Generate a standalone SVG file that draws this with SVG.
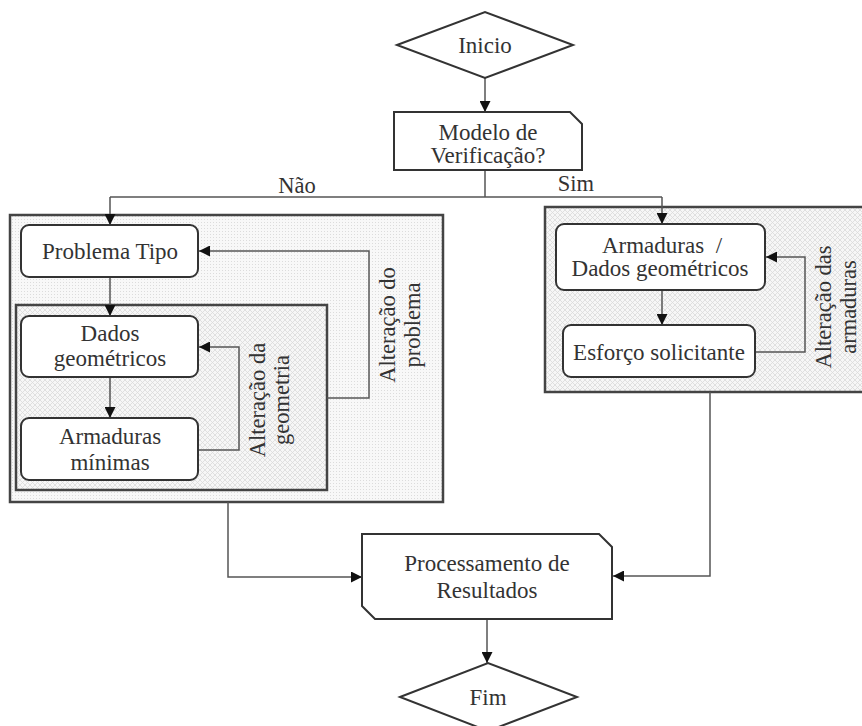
<svg xmlns="http://www.w3.org/2000/svg" width="862" height="726" viewBox="0 0 862 726">
<style>
.t{font-family:"Liberation Serif","Times New Roman",serif;font-size:23px;fill:#333;text-anchor:middle;dominant-baseline:central}
.l{font-size:22.5px}
.n{fill:#fff;stroke:#333;stroke-width:2}
.c{fill:none;stroke:#555;stroke-width:1.5}
.g{stroke:#444;stroke-width:2.5}
</style>
<defs>
<pattern id="dots" width="3" height="3" patternUnits="userSpaceOnUse">
<rect width="3" height="3" fill="#f8f8f8"/>
<rect width="1" height="1" fill="#dcdcdc"/>
</pattern>
<pattern id="hatch" width="5" height="5" patternUnits="userSpaceOnUse">
<rect width="5" height="5" fill="#f7f7f7"/>
<path d="M0,0 L5,5 M5,0 L0,5" stroke="#dadada" stroke-width="0.8"/>
</pattern>
<marker id="ar" viewBox="0 0 10 10" refX="10" refY="5" markerWidth="11" markerHeight="11" markerUnits="userSpaceOnUse" orient="auto">
<path d="M0,0 L10,5 L0,10 Z" fill="#111"/>
</marker>
</defs>
<g id="grupo-esquerdo">
<rect x="10" y="215" width="433" height="287" fill="url(#dots)" class="g"/>
</g>
<g id="grupo-geometria">
<rect x="16" y="305" width="311" height="185" fill="url(#hatch)" class="g"/>
</g>
<g id="grupo-direito">
<rect x="545" y="207" width="320" height="185" fill="url(#hatch)" class="g"/>
</g>
<g id="connectors">
<path class="c" d="M485,78 V112" marker-end="url(#ar)"/>
<path class="c" d="M485,170 V197"/>
<path class="c" d="M110,197 H662"/>
<path class="c" d="M110,197 V225" marker-end="url(#ar)"/>
<path class="c" d="M662,197 V224" marker-end="url(#ar)"/>
<path class="c" d="M110,277 V316" marker-end="url(#ar)"/>
<path class="c" d="M110,377 V418" marker-end="url(#ar)"/>
<path class="c" d="M198,450 H239 V347 H199" marker-end="url(#ar)"/>
<path class="c" d="M327,398 H369 V251 H199" marker-end="url(#ar)"/>
<path class="c" d="M662,290 V325" marker-end="url(#ar)"/>
<path class="c" d="M755,352 H805 V257 H766" marker-end="url(#ar)"/>
<path class="c" d="M710,392 V576 H613" marker-end="url(#ar)"/>
<path class="c" d="M228,502 V577 H362" marker-end="url(#ar)"/>
<path class="c" d="M487,619 V663" marker-end="url(#ar)"/>
<text class="t l" x="297" y="185">Não</text>
<text class="t l" x="576" y="183">Sim</text>
<text class="t l" transform="translate(257,400) rotate(-90)">Alteração da</text>
<text class="t l" transform="translate(281,400) rotate(-90)">geometria</text>
<text class="t l" transform="translate(387,325) rotate(-90)">Alteração do</text>
<text class="t l" transform="translate(412,325) rotate(-90)">problema</text>
<text class="t l" transform="translate(823,307) rotate(-90)">Alteração das</text>
<text class="t l" transform="translate(848,307) rotate(-90)">armaduras</text>
</g>
<g id="inicio">
<path class="n" d="M397,45 L485,12 L573,45 L485,78 Z"/>
<text class="t" x="485" y="45">Inicio</text>
</g>
<g id="modelo">
<path class="n" d="M394,112 H570 L582,124 V170 H394 Z"/>
<text class="t" x="488" y="132">Modelo de</text>
<text class="t" x="488" y="155">Verificação?</text>
</g>
<g id="problema-tipo">
<rect class="n" x="21" y="225" width="177" height="52" rx="8"/>
<text class="t" x="110" y="251">Problema Tipo</text>
</g>
<g id="dados-geometricos">
<rect class="n" x="21" y="316" width="177" height="61" rx="8"/>
<text class="t" x="110" y="333">Dados</text>
<text class="t" x="110" y="358">geométricos</text>
</g>
<g id="armaduras-minimas">
<rect class="n" x="21" y="418" width="177" height="62" rx="8"/>
<text class="t" x="110" y="436">Armaduras</text>
<text class="t" x="110" y="462">mínimas</text>
</g>
<g id="armaduras-dados">
<rect class="n" x="556" y="224" width="209" height="66" rx="8"/>
<text class="t" x="662" y="245">Armaduras &#160;/</text>
<text class="t" x="660" y="268">Dados geométricos</text>
</g>
<g id="esforco">
<rect class="n" x="563" y="325" width="192" height="52" rx="8"/>
<text class="t" x="659" y="352">Esforço solicitante</text>
</g>
<g id="processamento">
<path class="n" d="M362,534 H599 L612,547 V619 H375 L362,606 Z"/>
<text class="t" x="487" y="563">Processamento de</text>
<text class="t" x="487" y="590">Resultados</text>
</g>
<g id="fim">
<path class="n" d="M400,697 L488,663 L577,697 L488,731 Z"/>
<text class="t" x="488" y="697">Fim</text>
</g>
</svg>
